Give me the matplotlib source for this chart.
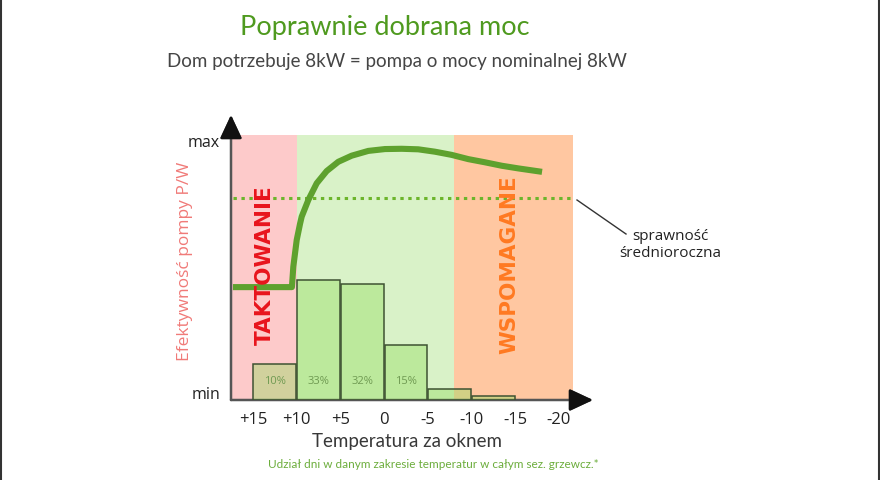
import matplotlib
matplotlib.use("Agg")
import matplotlib.pyplot as plt
from matplotlib.lines import Line2D
import numpy as np

# ---------------- data ----------------
title = "Poprawnie dobrana moc"
subtitle = "Dom potrzebuje 8kW = pompa o mocy nominalnej 8kW"
xlabel = "Temperatura za oknem"
ylabel = "Efektywność pompy P/W"
footer = "Udział dni w danym zakresie temperatur w całym sez. grzewcz.*"
callout = "sprawność\nśrednioroczna"

tick_temps = [15, 10, 5, 0, -5, -10, -15, -20]
tick_labels = ["+15", "+10", "+5", "0", "-5", "-10", "-15", "-20"]

# share of heating-season days per temperature band
bin_edges = [15, 10, 5, 0, -5, -10, -15]
day_share = [10, 33, 32, 15, 3, 1]
share_labels = ["10%", "33%", "32%", "15%", "", ""]

# efficiency curve (normalised: 0 = min, 1 = max)
curve_temp = [17.3, 10.55, 10.39, 10.0, 9.62, 9.43, 8.67, 7.71, 6.57, 5.24,
              3.71, 1.81, -0.10, -2.01, -3.91, -5.82, -7.73, -9.63, -11.54,
              -13.46, -15.35, -18.07]
curve_eff = [0.426, 0.426, 0.503, 0.604, 0.665, 0.692, 0.755, 0.818, 0.864,
             0.899, 0.922, 0.940, 0.947, 0.948, 0.946, 0.937, 0.925, 0.909,
             0.897, 0.884, 0.874, 0.861]

avg_eff = 0.762
avg_range = [17.3, -21.5]

zone_names = ["TAKTOWANIE", "", "WSPOMAGANE"]
zone_bounds = [(17.5, 10.0), (10.0, -8.0), (-8.0, -21.6)]
zone_colors = ["#fdcaca", "#d9f2c8", "#ffc7a1"]
zone_text_colors = ["#e8141c", None, "#ff7a22"]
zone_text_x = [13.7, None, -14.3]

ylevels = [0.026, 0.977]
ylevel_labels = ["min", "max"]

# ---------------- figure ----------------
W, H = 880, 480
fig = plt.figure(figsize=(W / 100, H / 100), dpi=100)
fig.patch.set_facecolor("white")

ax_l, ax_r, ax_b, ax_t = 231, 593, 400, 115
ax = fig.add_axes([ax_l / W, 1 - ax_b / H, (ax_r - ax_l) / W, (ax_b - ax_t) / H])
ax.set_xlim(17.52, -23.9)
ax.set_ylim(0, 1.0755)
ax.patch.set_alpha(0)
for s in ax.spines.values():
    s.set_visible(False)

for (a, b), c in zip(zone_bounds, zone_colors):
    ax.fill_between([a, b], 0, 1, color=c, lw=0, zorder=0)

ax.plot(avg_range, [avg_eff, avg_eff], color="#6cb52b", lw=2.2,
        linestyle=(0, (1.1, 1.5)), zorder=2)
ax.plot(curve_temp, curve_eff, color="#5ea12e", lw=4.4, solid_capstyle="butt",
        solid_joinstyle="round", zorder=3)

for name, tc, tx in zip(zone_names, zone_text_colors, zone_text_x):
    if name:
        ax.text(tx, 0.51, name, rotation=90, color=tc, fontsize=15.5,
                fontweight="bold", family="DejaVu Sans", ha="center",
                va="center", zorder=4)

ax.set_xticks(tick_temps)
ax.set_xticklabels(tick_labels, family="Open Sans", fontsize=12, color="#222222")
ax.set_yticks(ylevels)
ax.set_yticklabels(ylevel_labels, family="Open Sans", fontsize=11.5, color="#222222")
ax.tick_params(axis="x", length=0, pad=8.5)
ax.tick_params(axis="y", length=0, pad=8)

ax.set_ylabel(ylabel, family="Open Sans", fontsize=12.5, color="#f07a78",
              labelpad=4)
ax.yaxis.set_label_coords(-0.105, 0.487)

# axes arrows
arrow_kw = dict(arrowstyle="-|>,head_length=0.9,head_width=0.42",
                color="#111111", lw=1.8, mutation_scale=16, shrinkA=0, shrinkB=0)
ax.annotate("", xy=(0, 1), xytext=(0, 0), xycoords="axes fraction",
            arrowprops=dict(arrow_kw, color="#555555"))
ax.annotate("", xy=(1, 0), xytext=(0, 0), xycoords="axes fraction",
            arrowprops=dict(arrow_kw, color="#555555"))
ax.annotate("", xy=(0, 1), xytext=(0, 0.95), xycoords="axes fraction",
            arrowprops=dict(arrow_kw))
ax.annotate("", xy=(1, 0), xytext=(0.95, 0), xycoords="axes fraction",
            arrowprops=dict(arrow_kw))

# bars on a twin scale
ax2 = ax.twinx()
ax2.set_ylim(0, 78.4)
ax2.set_xlim(ax.get_xlim())
ax2.axis("off")
edges = np.array(bin_edges, dtype=float)
centers = (edges[:-1] + edges[1:]) / 2
ax2.bar(centers, day_share, width=4.9, color="#94dd60", alpha=0.42, zorder=1)
ax2.bar(centers, day_share, width=4.9, facecolor="none", edgecolor="#3e5232",
        lw=1.1, zorder=2)
for cx, lab in zip(centers, share_labels):
    if lab:
        ax2.annotate(lab, xy=(cx, 0), xytext=(0, 13.5), textcoords="offset points",
                     ha="center", va="center", fontsize=8, family="Open Sans",
                     color="#6f9a52")

# callout
fig.add_artist(Line2D([577 / W, 626 / W], [1 - 200 / H, 1 - 234 / H],
                      color="#333333", lw=1.0))
fig.text(670 / W, 1 - 245 / H, callout, ha="center", va="center",
         family="Open Sans", fontsize=11, color="#222222", linespacing=1.25)

# titles
fig.text(385 / W, 1 - 27 / H, title, ha="center", va="center", family="Lato",
         fontsize=19.5, color="#4f9a1f")
fig.text(397 / W, 1 - 62 / H, subtitle, ha="center", va="center", family="Lato",
         fontsize=13.5, color="#454545")
fig.text(407 / W, 1 - 441 / H, xlabel, ha="center", va="center", family="Lato",
         fontsize=13.5, color="#383838")
fig.text(433 / W, 1 - 465 / H, footer, ha="center", va="center", family="Lato",
         fontsize=8.5, color="#6cad3c")

# frame edges
fig.add_artist(Line2D([0.001, 0.001], [0, 1], color="#333333", lw=1.5))
fig.add_artist(Line2D([0.9985, 0.9985], [0, 1], color="#333333", lw=1.5))

fig.savefig("out.png", dpi=100, facecolor="white")
